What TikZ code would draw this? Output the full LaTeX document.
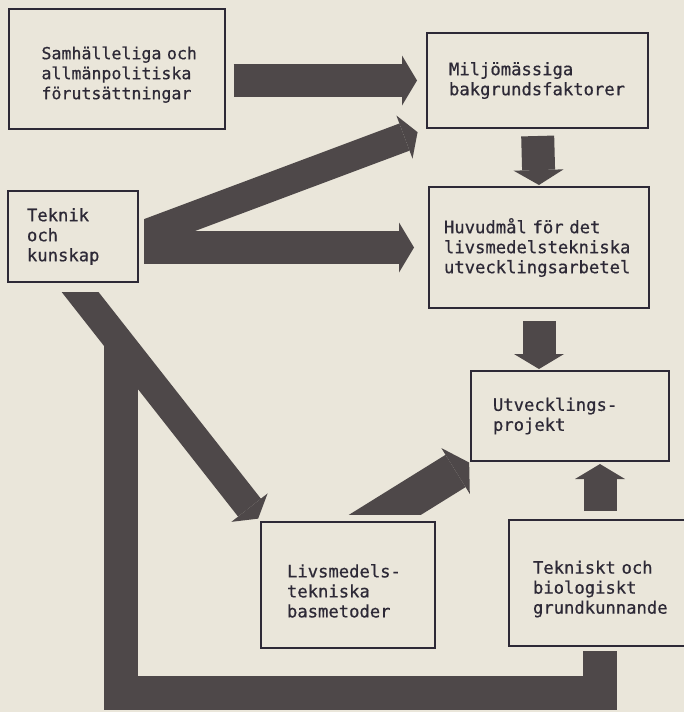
\documentclass[tikz,border=0pt]{standalone}
\usepackage{fontspec}
\setmainfont{DejaVu Sans Mono}[FakeBold=0.6]
\usetikzlibrary{arrows.meta}
\definecolor{paper}{RGB}{234,230,218}
\definecolor{ink}{RGB}{45,41,54}
\definecolor{toner}{RGB}{78,72,73}
\tikzset{
  box/.style={draw=ink, line width=1pt, align=left, text=ink, inner ysep=0pt,
    font=\fontsize{8.6}{10}\selectfont},
  lowtext/.style={execute at begin node=\rule{0pt}{12.5pt}},
  fat/.style={color=toner, line width=16.5pt, -{Triangle[width=25pt,length=7.5pt,line width=0pt]}},
  fatdiag/.style={color=toner, line width=14.5pt, -{Triangle[width=23pt,length=7pt,line width=0pt]}},
  band/.style={color=toner, line width=17pt, line join=miter}
}
\begin{document}
\begin{tikzpicture}[x=0.5pt,y=-0.5pt]
                \fill[paper] (0,0) rectangle (684,712);
                \useasboundingbox (0,0) rectangle (684,712);

                \node[box, lowtext, font=\fontsize{8.3}{10}\selectfont, text width=75pt, inner xsep=16.5pt, minimum height=60pt] (samh) at (116.5,68.5) {Samhälleliga~och\\allmänpolitiska\\förutsättningar};
                \node[box, text width=88.5pt, inner xsep=11pt, minimum height=47.5pt] (milj) at (537.5,80.5) {Miljömässiga\\bakgrundsfaktorer};
                \node[box, text width=46pt, inner xsep=9.5pt, minimum height=45.5pt] (teknik) at (73,236.5) {Teknik\\och\\kunskap};
                \node[box, text width=95pt, inner xsep=7.5pt, minimum height=60.5pt] (huvud) at (539,247.5) {Huvudmål för det\\livsmedelstekniska\\utvecklingsarbetel};
                \node[box, text width=77pt, inner xsep=11pt, minimum height=45pt] (utv) at (570,416) {Utvecklings-\\projekt};
                \node[box, lowtext, text width=61pt, inner xsep=13pt, minimum height=63pt] (livs) at (348,585) {Livsmedels-\\tekniska\\basmetoder};
                \node[box, lowtext, text width=75pt, inner xsep=12pt, minimum height=63pt] (tek) at (608,583) {Tekniskt och\\biologiskt\\grundkunnande};

                \coordinate (bandtop) at (120.5,343);
                \coordinate (bandfoot) at (120.5,692.5);

                \draw[fat, shorten <=4pt, shorten >=4.5pt] (samh.east |- milj.west) to (milj.west);
                \begin{scope}
                    \clip ([xshift=2.5pt]teknik.south east) rectangle (milj.north east);
                    \draw[fatdiag, shorten <=-5pt, shorten >=4.5pt] (teknik.east) to (milj.south west);
                    \draw[fat, shorten <=2.5pt, shorten >=7pt] (teknik.east |- huvud.west) to (huvud.west);
                \end{scope}
                \draw[fat, shorten <=3.5pt, shorten >=0.5pt] (milj.south) to (huvud.north);
                \draw[fat, shorten <=6pt, shorten >=0.5pt] (huvud.south) to (huvud.south |- utv.north);
                \draw[fat, shorten <=4pt, shorten >=1pt] ([xshift=-4pt]tek.north) to ([xshift=-4pt]tek.north |- utv.south);
                \begin{scope}
                    \clip ([yshift=3.5pt]livs.north west) rectangle (utv.north east);
                    \draw[fat, line width=19pt, -{Triangle[width=27pt,length=8pt,line width=0pt]}, shorten <=-15pt, shorten >=0.5pt] ([xshift=13.5pt]livs.north) to (utv.south west);
                \end{scope}
                \draw[band, shorten >=2pt] (bandtop) -- (bandfoot) -| ([xshift=-4pt]tek.south);
                \begin{scope}
                    \clip ([yshift=-4.5pt]teknik.south west) rectangle (livs.south east);
                    \draw[fatdiag, shorten <=-5pt, shorten >=1.5pt] (teknik.south) to (livs.north west);
                \end{scope}
            \end{tikzpicture}
\end{document}
